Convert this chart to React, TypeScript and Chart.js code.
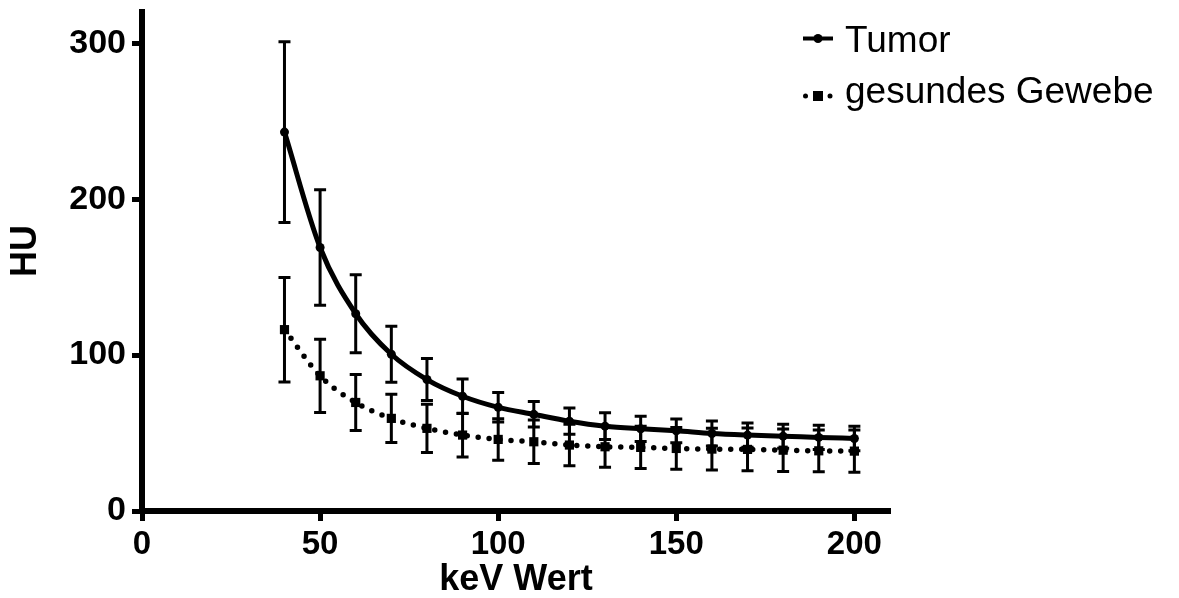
import React, { useEffect, useRef } from "react";
import { Chart, registerables } from "chart.js";

Chart.register(...registerables);

// ---- data ----
const keV = [40, 50, 60, 70, 80, 90, 100, 110, 120, 130, 140, 150, 160, 170, 180, 190, 200];
const tumorMean = [243, 169, 126.5, 100.5, 84.3, 73.6, 66.5, 62, 57.6, 54.4, 52.7, 51.4, 49.7, 48.7, 48, 47.2, 46.5];
const tumorSD = [58, 37, 25, 18, 13.5, 11, 9.5, 8.2, 8.4, 8.6, 8.1, 7.6, 8, 7.8, 7.7, 7.8, 7.9];
const healthyMean = [116.3, 86.7, 69.6, 59.4, 53, 48.7, 45.9, 44.4, 42.3, 41.2, 40.8, 40.1, 39.7, 39.5, 39, 38.6, 38.4];
const healthySD = [33.5, 23.5, 18, 15.5, 15.5, 14, 13.3, 14, 13.3, 13.2, 13.5, 13.4, 13.4, 13.7, 13.6, 13.4, 13.6];
const xTicks = [0, 50, 100, 150, 200];
const yTicks = [0, 100, 200, 300];
const seriesLabels = ["Tumor", "gesundes Gewebe"];
const xTitle = "keV Wert";
const yTitle = "HU";

const FONT = "'Liberation Sans', Arial, Helvetica, sans-serif";

export default function App() {
  const ref = useRef<HTMLCanvasElement>(null);

  useEffect(() => {
    document.body.style.margin = "0";
    const canvas = ref.current;
    if (!canvas) return;

    const sdList = [tumorSD, healthySD];

    const errorBars = {
      id: "errorBars",
      beforeDatasetsDraw(chart: any) {
        const ctx = chart.ctx;
        const xs = chart.scales.x;
        const ys = chart.scales.y;
        chart.data.datasets.forEach((ds: any, i: number) => {
          ctx.save();
          ctx.strokeStyle = "#000";
          ctx.lineWidth = 3;
          ctx.lineCap = "butt";
          ds.data.forEach((p: any, j: number) => {
            const sd = sdList[i][j];
            const x = xs.getPixelForValue(p.x);
            const yT = ys.getPixelForValue(p.y + sd);
            const yB = ys.getPixelForValue(p.y - sd);
            ctx.beginPath();
            ctx.moveTo(x, yT);
            ctx.lineTo(x, yB);
            ctx.moveTo(x - 6, yT);
            ctx.lineTo(x + 6, yT);
            ctx.moveTo(x - 6, yB);
            ctx.lineTo(x + 6, yB);
            ctx.stroke();
          });
          ctx.restore();
        });
      },
    };

    const customLegend = {
      id: "customLegend",
      afterDraw(chart: any) {
        const ctx = chart.ctx;
        ctx.save();
        ctx.fillStyle = "#000";
        ctx.strokeStyle = "#000";
        // Tumor symbol
        ctx.lineWidth = 4;
        ctx.beginPath();
        ctx.moveTo(803, 38.5);
        ctx.lineTo(833, 38.5);
        ctx.stroke();
        ctx.beginPath();
        ctx.arc(818, 38.5, 4.5, 0, Math.PI * 2);
        ctx.fill();
        // healthy symbol
        ctx.beginPath();
        ctx.arc(805.5, 96, 2.5, 0, Math.PI * 2);
        ctx.fill();
        ctx.beginPath();
        ctx.arc(830, 96, 2.5, 0, Math.PI * 2);
        ctx.fill();
        ctx.fillRect(813, 91, 10, 10);
        ctx.font = `37px ${FONT}`;
        ctx.textAlign = "left";
        ctx.textBaseline = "alphabetic";
        ctx.fillText(seriesLabels[0], 845, 52);
        ctx.fillText(seriesLabels[1], 845, 103);

        // y axis title
        ctx.save();
        ctx.translate(26.5, 251);
        ctx.rotate(-Math.PI / 2);
        ctx.font = `bold 36px ${FONT}`;
        ctx.textAlign = "center";
        ctx.textBaseline = "middle";
        ctx.fillText(yTitle, 0, 0);
        ctx.restore();
        ctx.restore();
      },
    };

    const axisCommon = {
      type: "linear" as const,
      grid: {
        display: true,
        drawOnChartArea: false,
        drawTicks: true,
        tickLength: 10,
        tickWidth: 5,
        tickColor: "#000",
        color: "#000",
      },
      border: { display: true, color: "#000", width: 6 },
    };

    const chart = new Chart(canvas, {
      type: "line",
      data: {
        datasets: [
          {
            label: seriesLabels[0],
            data: keV.map((x, i) => ({ x, y: tumorMean[i] })),
            borderColor: "#000",
            backgroundColor: "#000",
            borderWidth: 5,
            cubicInterpolationMode: "monotone",
            pointStyle: "circle",
            pointRadius: 4.5,
            pointBorderWidth: 0,
            pointBackgroundColor: "#000",
            fill: false,
          },
          {
            label: seriesLabels[1],
            data: keV.map((x, i) => ({ x, y: healthyMean[i] })),
            borderColor: "#000",
            backgroundColor: "#000",
            borderWidth: 5.5,
            borderDash: [0, 11],
            borderCapStyle: "round",
            cubicInterpolationMode: "monotone",
            pointStyle: "rect",
            pointRadius: 6.5,
            pointBorderWidth: 0,
            pointBackgroundColor: "#000",
            fill: false,
          },
        ],
      },
      options: {
        animation: false,
        responsive: false,
        maintainAspectRatio: false,
        devicePixelRatio: 1,
        layout: { padding: { left: 0, right: 289, top: 12, bottom: 0 } },
        plugins: {
          legend: { display: false },
          tooltip: { enabled: false },
        },
        scales: {
          x: {
            ...axisCommon,
            position: "bottom",
            min: 0,
            max: 210,
            afterBuildTicks: (s: any) => {
              s.ticks = xTicks.map((v) => ({ value: v }));
            },
            afterFit: (s: any) => {
              s.height = 87;
              s.paddingLeft = 0;
              s.paddingRight = 0;
            },
            ticks: {
              color: "#000",
              padding: 4,
              maxRotation: 0,
              font: { family: FONT, size: 33, weight: "bold" },
            },
            title: {
              display: true,
              text: xTitle,
              color: "#000",
              padding: 0,
              font: { family: FONT, size: 36, weight: "bold", lineHeight: 1.0 },
            },
          },
          y: {
            ...axisCommon,
            position: "left",
            min: 0,
            max: 320,
            afterBuildTicks: (s: any) => {
              s.ticks = yTicks.map((v) => ({ value: v }));
            },
            afterFit: (s: any) => {
              s.width = 142;
              s.paddingTop = 0;
              s.paddingBottom = 0;
            },
            ticks: {
              color: "#000",
              padding: 6,
              font: { family: FONT, size: 34, weight: "bold" },
            },
            title: { display: false },
          },
        },
      },
      plugins: [errorBars, customLegend],
    } as any);

    return () => chart.destroy();
  }, []);

  return (
    <div style={{ width: 1179, height: 598, position: "relative", background: "#fff" }}>
      <canvas ref={ref} width={1179} height={598} style={{ display: "block" }} />
    </div>
  );
}
